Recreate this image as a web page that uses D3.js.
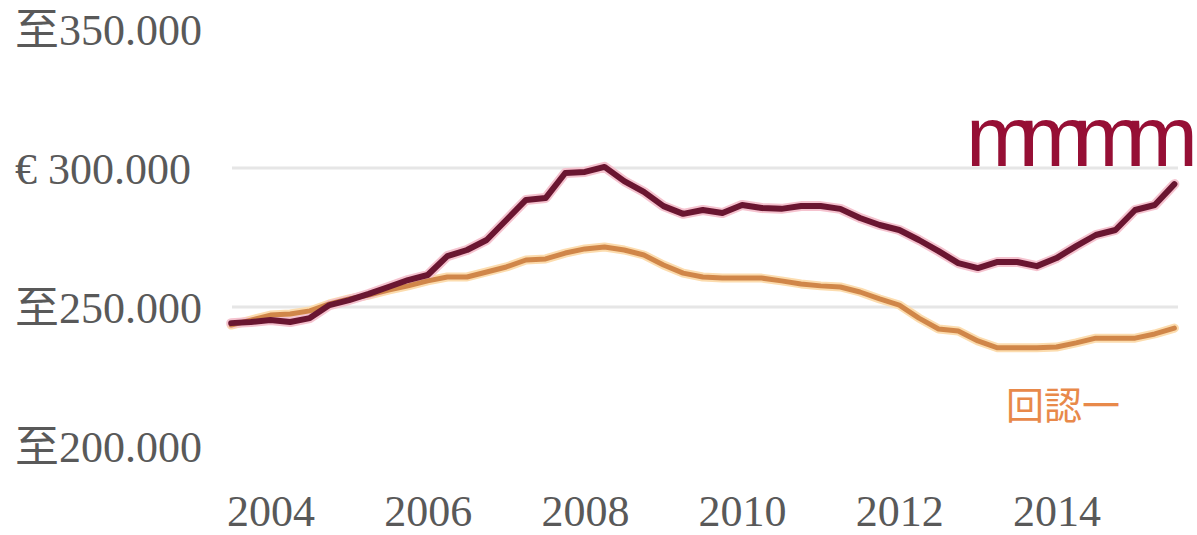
<!DOCTYPE html>
<html>
<head>
<meta charset="utf-8">
<script src="https://cdn.jsdelivr.net/npm/d3@7"></script>
<style>
    body { margin: 0; background: #fff; }
    svg { display: block; }
    .serif { font-family: "Liberation Serif", "Times New Roman", "DejaVu Serif", "Noto Sans CJK SC", serif; }
</style>
</head>
<body>
<div id="chart"></div>
<script>
// quarterly observations, 2003 Q3 .. 2015 Q3
var quarters = [
    "2003Q3", "2003Q4",
    "2004Q1", "2004Q2", "2004Q3", "2004Q4",
    "2005Q1", "2005Q2", "2005Q3", "2005Q4",
    "2006Q1", "2006Q2", "2006Q3", "2006Q4",
    "2007Q1", "2007Q2", "2007Q3", "2007Q4",
    "2008Q1", "2008Q2", "2008Q3", "2008Q4",
    "2009Q1", "2009Q2", "2009Q3", "2009Q4",
    "2010Q1", "2010Q2", "2010Q3", "2010Q4",
    "2011Q1", "2011Q2", "2011Q3", "2011Q4",
    "2012Q1", "2012Q2", "2012Q3", "2012Q4",
    "2013Q1", "2013Q2", "2013Q3", "2013Q4",
    "2014Q1", "2014Q2", "2014Q3", "2014Q4",
    "2015Q1", "2015Q2", "2015Q3"
];

// dark series (thousands of euro)
var seriesDark = [
    244.2, 244.6, 245.3, 244.6, 246.0, 250.7, 252.5, 254.7, 257.2, 259.7,
    261.5, 268.3, 270.5, 274.1, 281.3, 288.5, 289.2, 298.2, 298.6, 300.4,
    295.3, 291.4, 286.3, 283.5, 284.9, 283.8, 286.7, 285.6, 285.3, 286.3,
    286.3, 285.3, 282.0, 279.5, 277.7, 274.1, 270.1, 265.8, 264.0, 266.2,
    266.2, 264.7, 267.6, 271.9, 275.9, 277.7, 284.9, 286.7, 294.2
];

// orange series (thousands of euro)
var seriesOrange = [
    243.5, 245.3, 247.1, 247.5, 248.6, 251.1, 252.9, 254.3, 256.1, 257.6,
    259.4, 260.8, 260.8, 262.6, 264.4, 266.9, 267.3, 269.4, 270.9, 271.6,
    270.5, 268.7, 265.1, 262.2, 260.8, 260.4, 260.4, 260.4, 259.4, 258.3,
    257.6, 257.2, 255.4, 252.9, 250.7, 246.0, 242.1, 241.4, 237.8, 235.3,
    235.3, 235.3, 235.6, 237.1, 238.8, 238.8, 238.8, 240.3, 242.4
];

var xTicks = [2004, 2006, 2008, 2010, 2012, 2014];
var yTicks = [200, 250, 300, 350];
var yTickLabels = ["至200.000", "至250.000", "€ 300.000", "至350.000"];
var gridValues = [250, 300];
var labelDark = "mmmm";
var labelOrange = "回認一";

/*********************************************************************/
var width = 1197, height = 535;

var svg = d3.select("#chart").append("svg")
    .attr("width", width)
    .attr("height", height);

function quarterToYear(q) {
    return +q.slice(0, 4) + (+q.slice(5) - 1) * 0.25;
}

var xScale = d3.scaleLinear()
    .domain([2004, 2014])
    .range([270.5, 1056.5]);

var yScale = d3.scaleLinear()
    .domain([250, 300])
    .range([307, 168]);

// grid
svg.append("g")
    .selectAll("line")
    .data(gridValues)
    .enter().append("line")
    .attr("x1", 232)
    .attr("x2", 1178)
    .attr("y1", function (d) { return yScale(d); })
    .attr("y2", function (d) { return yScale(d); })
    .attr("stroke", "#e6e6e6")
    .attr("stroke-width", 3);

// y labels, left aligned
var yAxis = d3.axisLeft(yScale)
    .tickValues(yTicks)
    .tickSize(0)
    .tickFormat(function (d, i) { return yTickLabels[i]; });

var yg = svg.append("g")
    .attr("class", "yAxis")
    .call(yAxis);
yg.select(".domain").remove();
yg.attr("font-family", null).attr("font-size", null);
yg.selectAll("text")
    .attr("class", "serif")
    .attr("x", 15)
    .attr("dy", "0.36em")
    .style("text-anchor", "start")
    .attr("fill", "#595959")
    .style("font-size", "44px");

// x labels
var xAxis = d3.axisBottom(xScale)
    .tickValues(xTicks)
    .tickSize(0)
    .tickPadding(0)
    .tickFormat(d3.format("d"));

var xg = svg.append("g")
    .attr("class", "xAxis")
    .attr("transform", "translate(0,526)")
    .call(xAxis);
xg.select(".domain").remove();
xg.attr("font-family", null).attr("font-size", null);
xg.selectAll("text")
    .attr("class", "serif")
    .attr("y", 0)
    .attr("dy", 0)
    .attr("fill", "#595959")
    .style("font-size", "44px");

// lines
var line = d3.line()
    .x(function (d, i) { return xScale(quarterToYear(quarters[i])); })
    .y(function (d) { return yScale(d); });

var lines = [
    { values: seriesOrange, halo: "#fcdcae", color: "#d08649", w: 5 },
    { values: seriesDark, halo: "#f5c3cf", color: "#6a1631", w: 6 }
];

var lg = svg.append("g");
lines.forEach(function (s) {
    lg.append("path")
        .datum(s.values)
        .attr("d", line)
        .attr("fill", "none")
        .attr("stroke", s.halo)
        .attr("stroke-width", s.w + 4)
        .attr("stroke-linejoin", "round")
        .attr("stroke-linecap", "round");
});
lines.forEach(function (s) {
    lg.append("path")
        .datum(s.values)
        .attr("d", line)
        .attr("fill", "none")
        .attr("stroke", s.color)
        .attr("stroke-width", s.w)
        .attr("stroke-linejoin", "round")
        .attr("stroke-linecap", "round");
});

// series labels
svg.append("text")
    .attr("x", 966)
    .attr("y", 166)
    .attr("fill", "#960f35")
    .attr("font-family", "'Liberation Sans', Arial, sans-serif")
    .attr("font-size", 86)
    .attr("letter-spacing", -18.2)
    .text(labelDark);

svg.append("text")
    .attr("x", 1006)
    .attr("y", 419)
    .attr("fill", "#e8894a")
    .attr("font-family", "'Noto Sans CJK JP', 'Noto Sans CJK SC', sans-serif")
    .attr("font-size", 38)
    .text(labelOrange);
</script>
</body>
</html>
